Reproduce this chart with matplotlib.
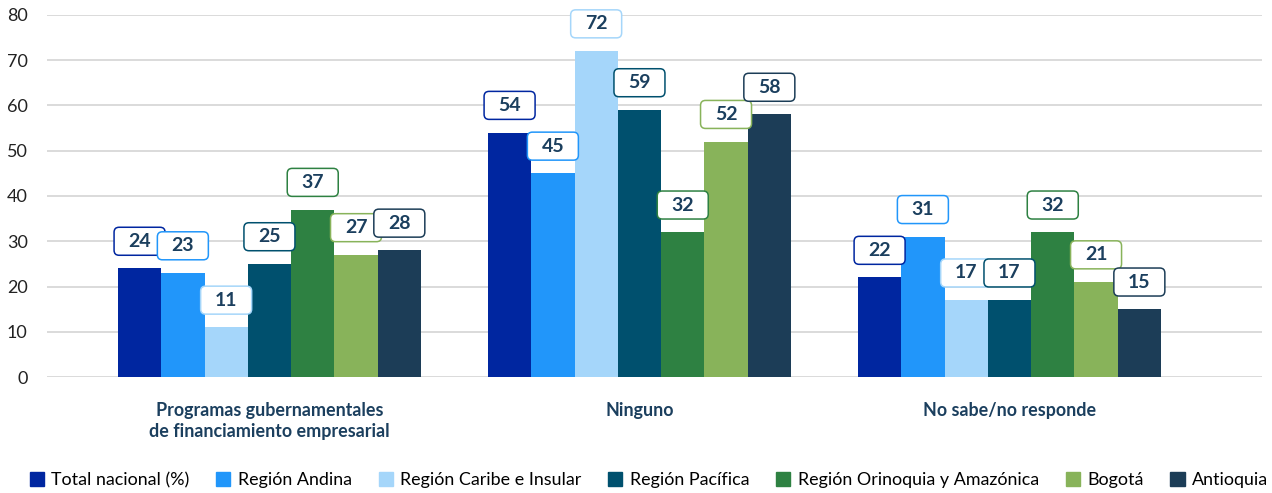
import numpy as np
import matplotlib.pyplot as plt
import matplotlib.transforms as mtransforms
from matplotlib.patches import Patch, FancyBboxPatch

plt.rcParams['font.family'] = ['Lato', 'DejaVu Sans']

categorias = ['Programas gubernamentales\nde financiamiento empresarial', 'Ninguno', 'No sabe/no responde']
regiones = ['Total nacional (%)', 'Región Andina', 'Región Caribe e Insular', 'Región Pacífica',
            'Región Orinoquia y Amazónica', 'Bogotá', 'Antioquia']
total_nacional = [24, 54, 22]
andina = [23, 45, 31]
caribe = [11, 72, 17]
pacifica = [25, 59, 17]
orinoquia = [37, 32, 32]
bogota = [27, 52, 21]
antioquia = [28, 58, 15]
series = [total_nacional, andina, caribe, pacifica, orinoquia, bogota, antioquia]

colores = ['#0026a0', '#2196fa', '#a5d6fa', '#00506e', '#2e8142', '#88b35a', '#1c3d57']
texto = '#1b3f5e'

fig = plt.figure(figsize=(12.72, 4.93), dpi=100)
ax = fig.add_axes([0.037, 0.235, 0.955, 0.735])

x = np.arange(len(categorias))
ancho = 0.117
for i, (vals, col) in enumerate(zip(series, colores)):
    pos = x + (i - 3) * ancho
    ax.bar(pos, vals, width=ancho, color=col, zorder=3)
    for p, v in zip(pos, vals):
        # caja de etiqueta con tamaño fijo en píxeles, centrada sobre la barra
        t = mtransforms.Affine2D() + mtransforms.ScaledTranslation(p, v + 6, ax.transData)
        caja = FancyBboxPatch((-25.5, -14), 51, 28, boxstyle='round,pad=0,rounding_size=5',
                              fc='white', ec=col, lw=1.1, transform=t, zorder=4, clip_on=False)
        ax.add_patch(caja)
        ax.text(p, v + 6, str(v), ha='center', va='center', fontsize=14, fontweight='bold',
                color=texto, zorder=5)

ax.set_ylim(0, 80)
ax.set_xlim(-0.601, 2.682)
ax.set_yticks(range(0, 81, 10))
ax.yaxis.grid(True, color='#d4d4d4', lw=1.2, zorder=0)
for s in ax.spines.values():
    s.set_visible(False)
ax.tick_params(axis='y', length=0, labelsize=13, labelcolor='#222222', pad=14)
ax.tick_params(axis='x', length=0, pad=18)
ax.set_xticks(x)
ax.set_xticklabels(categorias, fontsize=12.9, fontweight='bold', color=texto, linespacing=1.3)

handles = [Patch(color=c, label=r) for c, r in zip(colores, regiones)]
fig.legend(handles=handles, loc='center', bbox_to_anchor=(0.51, 0.026), ncol=7, frameon=False,
           fontsize=12.9, handlelength=0.8, handleheight=0.8, handletextpad=0.4, columnspacing=1.5)

plt.savefig('out.png', dpi=100)
